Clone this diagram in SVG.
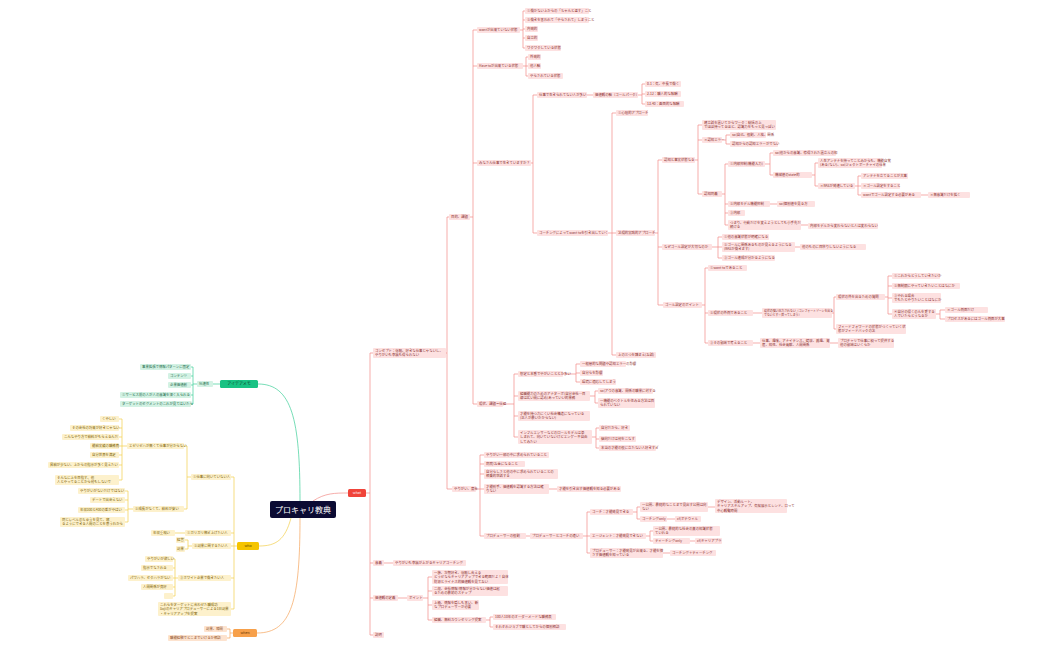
<svg xmlns="http://www.w3.org/2000/svg" width="1050" height="650" viewBox="0 0 1050 650">
<style>
text{font-family:"Noto Sans CJK JP","Noto Sans",sans-serif;font-size:3.4px}
.p rect{fill:#fde1e1}.p text{fill:#8a2f2f}
.y rect{fill:#fdf1cc}.y text{fill:#7a5c00}
.g rect{fill:#d3f2e4}.g text{fill:#1d6b4a}
.o rect{fill:#fde3cf}.o text{fill:#8a4a1a}
.cp{fill:none;stroke:#f28b86;stroke-width:0.7}
.cy{fill:none;stroke:#f2cf4a;stroke-width:0.7}
.cg{fill:none;stroke:#3ccf98;stroke-width:0.7}
.co{fill:none;stroke:#f5a45a;stroke-width:0.7}
.big text{font-size:4.5px}
</style>
<rect width="1050" height="650" fill="#fff"/>
<g id="connectors">
<path class="cg" d="M300,501 C300,420 292,384 258,384"/>
<path class="cy" d="M291,518 C285,540 276,546 259,546"/>
<path class="co" d="M300,518 C300,600 292,633 257,633"/>
<path class="cp" d="M313,501 C325,493 335,493 348,493"/>
<path class="cg" d="M220,384 H213 M197,384 H193 M193,367 V404 M193,367 H191 M193,376 H191 M193,385 H191 M193,395 H191 M193,404 H191"/>
<path class="cy" d="M237,546 H234 M234,477 V609 M234,477 H231 M234,533 H231 M234,546 H231 M234,578 H231 M234,609 H231"/>
<path class="cy" d="M191,477 H187 M187,446 V509 M187,446 H184 M187,509 H184"/>
<path class="cy" d="M128,446 H122 M122,419 V480 M122,419 H119 M122,428 H119 M122,437 H119 M122,446 H119 M122,455 H119 M122,465 H119 M122,480 H119"/>
<path class="cy" d="M133,509 H128 M128,491 V522 M128,491 H125 M128,500 H125 M128,510 H125 M128,522 H125"/>
<path class="cy" d="M185,533 H175"/>
<path class="cy" d="M192,546 H188 M188,540 V549 M188,540 H185 M188,549 H185"/>
<path class="cy" d="M178,578 H175 M175,559 V596 M175,559 H173 M175,568 H173 M175,578 H173 M175,587 H173 M175,596 H173"/>
<path class="co" d="M233,633 H230 M230,629 V638 M230,629 H227 M230,638 H227"/>
<path class="cp" d="M366,493 H370 M370,353 V635 M370,353 H373 M370,563 H373 M370,598 H373 M370,635 H373"/>
<path class="cp" d="M384,563 H393 M398,598 H407 M423,598 H428 M428,577 V620 M428,577 H432 M428,591 H432 M428,605 H432 M428,620 H432 M486,620 H490 M490,617 V627 M490,617 H493 M490,627 H493"/>
<path class="cp" d="M445,353 H447 M447,217 V489 M447,217 H449 M447,489 H452"/>
<path class="cp" d="M469,217 H473 M473,30 V404 M473,30 H477 M473,66 H477 M473,163 H477 M473,404 H477"/>
<path class="cp" d="M520,30 H523 M523,11 V48 M523,11 H525 M523,20 H525 M523,29 H525 M523,38 H525 M523,48 H525"/>
<path class="cp" d="M523,66 H526 M526,57 V76 M526,57 H528 M526,66 H528 M526,76 H528"/>
<path class="cp" d="M531,163 H533 M533,95 V233 M533,95 H537 M533,233 H537 M587,95 H593 M638,95 H642 M642,84 V104 M642,84 H645 M642,94 H645 M642,104 H645"/>
<path class="cp" d="M608,233 H612 M612,113 V355 M612,113 H616 M612,233 H616 M612,355 H616"/>
<path class="cp" d="M655,233 H658 M658,160 V305 M658,160 H662 M658,247 H662 M658,305 H663"/>
<path class="cp" d="M695,160 H698 M698,125 V194 M698,125 H702 M698,140 H702 M698,194 H702 M722,140 H726 M726,135 V144 M726,135 H730 M726,144 H730"/>
<path class="cp" d="M722,194 H725 M725,164 V225 M725,164 H728 M725,204 H728 M725,213 H728 M725,225 H728 M770,204 H777 M801,225 H808"/>
<path class="cp" d="M765,164 H770 M770,153 V175 M770,153 H773 M770,175 H773 M812,175 H815 M815,163 V186 M815,163 H818 M815,186 H818 M855,186 H858 M858,176 V195 M858,176 H861 M858,186 H861 M858,195 H861 M921,195 H928"/>
<path class="cp" d="M712,247 H718 M718,237 V258 M718,237 H722 M718,247 H722 M718,258 H722 M795,247 H800"/>
<path class="cp" d="M702,305 H705 M705,268 V343 M705,268 H708 M705,313 H708 M705,343 H708 M753,313 H762 M753,343 H760 M830,343 H838"/>
<path class="cp" d="M832,313 H834 M834,297 V329 M834,297 H836 M834,329 H836 M885,297 H888 M888,276 V314 M888,276 H892 M888,286 H892 M888,298 H892 M888,314 H892 M936,314 H940 M940,310 V319 M940,310 H945 M940,319 H945"/>
<path class="cp" d="M503,404 H514 M514,374 V437 M514,374 H518 M514,396 H518 M514,416 H518 M514,437 H518"/>
<path class="cp" d="M563,374 H576 M576,364 V382 M576,364 H580 M576,373 H580 M576,382 H580"/>
<path class="cp" d="M590,396 H595 M595,391 V403 M595,391 H598 M595,403 H598"/>
<path class="cp" d="M592,437 H596 M596,428 V448 M596,428 H599 M596,439 H599 M596,448 H599"/>
<path class="cp" d="M476,489 H480 M480,455 V536 M480,455 H484 M480,464 H484 M480,474 H484 M480,489 H484 M480,536 H484 M549,489 H557 M526,536 H530"/>
<path class="cp" d="M583,536 H587 M587,512 V553 M587,512 H590 M587,536 H590 M587,553 H590 M663,553 H670"/>
<path class="cp" d="M633,512 H637 M637,507 V519 M637,507 H640 M637,519 H640 M708,507 H715 M667,519 H675"/>
<path class="cp" d="M646,536 H650 M650,531 V541 M650,531 H653 M650,541 H653 M690,541 H695"/>
</g>
<g id="root"><rect x="270" y="501" width="66" height="17" rx="2" fill="#0b0b33"/><text x="303" y="512.5" text-anchor="middle" fill="#fff" style="font-size:8px">プロキャリ教典</text></g>
<g id="what"><rect x="348" y="489" width="18" height="8" rx="1.5" fill="#f0443a"/><text x="357" y="494.3" text-anchor="middle" fill="#fff" style="font-size:3.6px">what</text></g>
<g id="idea"><rect x="220" y="380" width="38" height="8" rx="1.5" fill="#19c283"/><text x="239" y="385.3" text-anchor="middle" fill="#0b3b28" style="font-size:4px">アイデアメモ</text></g>
<g id="who"><rect x="237" y="542" width="22" height="8" rx="1.5" fill="#f5c400"/><text x="248" y="547.3" text-anchor="middle" fill="#5a4500" style="font-size:3.6px">who</text></g>
<g id="when"><rect x="233" y="629" width="24" height="8" rx="1.5" fill="#f7a04a"/><text x="245" y="634.3" text-anchor="middle" fill="#6b3300" style="font-size:3.6px">when</text></g>

<g class="g">
<g id="g0"><rect x="197" y="381" width="16" height="6" rx="1"/><text x="199" y="385.2">伝達性</text></g>
<g id="g1"><rect x="140" y="364" width="51" height="6" rx="1"/><text x="142" y="368.2">事業拡張で情報パターンに固定</text></g>
<g id="g2"><rect x="168" y="373" width="23" height="6" rx="1"/><text x="170" y="377.2">コンテンツ</text></g>
<g id="g3"><rect x="168" y="382" width="23" height="6" rx="1"/><text x="170" y="386.2">企業価値創</text></g>
<g id="g4"><rect x="120" y="392" width="71" height="6" rx="1"/><text x="122" y="396.2">①サービス前の人が人の意識を深く入られる</text></g>
<g id="g5"><rect x="120" y="401" width="71" height="6" rx="1"/><text x="122" y="405.2">ターゲットのセグメントのこれが見てはいたら</text></g>
</g>

<g class="y">
<g id="y1"><rect x="191" y="474" width="40" height="6" rx="1"/><text x="193" y="478.2">①仕事に向いていない人</text></g>
<g id="y2"><rect x="127" y="443" width="57" height="6" rx="1"/><text x="129" y="447.2">エゼリゼハが無くて仕事が分からない</text></g>
<g id="y3"><rect x="100" y="416" width="19" height="6" rx="1"/><text x="102" y="420.2">くやしい</text></g>
<g id="y4"><rect x="70" y="425" width="49" height="6" rx="1"/><text x="72" y="429.2">その会社の将来が好きじゃない</text></g>
<g id="y5"><rect x="62" y="434" width="57" height="6" rx="1"/><text x="64" y="438.2">こんなやり方で給料がもらえるんだ</text></g>
<g id="y6"><rect x="90" y="443" width="29" height="6" rx="1"/><text x="92" y="447.2">能給実績の職務費</text></g>
<g id="y7"><rect x="90" y="452" width="29" height="6" rx="1"/><text x="92" y="456.2">自分世界を満足</text></g>
<g id="y8"><rect x="48" y="462" width="71" height="6" rx="1"/><text x="50" y="466.2">昇給が少ない、上からの指示が多く見えたい</text></g>
<g id="y9"><rect x="55" y="475" width="64" height="10" rx="1"/><text x="57" y="479.2">そんなに上を目指す、他<tspan x="57" dy="4.2">人とやってることから何もしないで</tspan></text></g>
<g id="y10"><rect x="133" y="506" width="51" height="6" rx="1"/><text x="135" y="510.2">②成長がなくて、給料が安い</text></g>
<g id="y11"><rect x="78" y="488" width="47" height="6" rx="1"/><text x="80" y="492.2">やりがいがないだけではない</text></g>
<g id="y12"><rect x="90" y="497" width="35" height="6" rx="1"/><text x="92" y="501.2">デートで出会えない</text></g>
<g id="y13"><rect x="78" y="507" width="47" height="6" rx="1"/><text x="80" y="511.2">年収300と400の差がやばい</text></g>
<g id="y14"><rect x="60" y="517" width="65" height="10" rx="1"/><text x="62" y="521.2">同じレベルのちゅうを見て、寝<tspan x="62" dy="4.2">るようにできる人間のことを思うわから</tspan></text></g>
<g id="y15"><rect x="185" y="530" width="46" height="6" rx="1"/><text x="187" y="534.2">①ガリガリ稼ぎ上げたい人</text></g>
<g id="y16"><rect x="151" y="530" width="24" height="6" rx="1"/><text x="153" y="534.2">年収重視い</text></g>
<g id="y17"><rect x="192" y="543" width="39" height="6" rx="1"/><text x="194" y="547.2">②副業に関するたい人</text></g>
<g id="y18"><rect x="176" y="537" width="9" height="6" rx="1"/><text x="177" y="541.2">経営</text></g>
<g id="y19"><rect x="176" y="546" width="9" height="6" rx="1"/><text x="177" y="550.2">副業</text></g>
<g id="y20"><rect x="178" y="575" width="53" height="6" rx="1"/><text x="180" y="579.2">③ホワイト企業で働きたい人</text></g>
<g id="y21"><rect x="145" y="556" width="28" height="6" rx="1"/><text x="147" y="560.2">やりがいが欲しい</text></g>
<g id="y22"><rect x="141" y="565" width="32" height="6" rx="1"/><text x="143" y="569.2">指示でなされる</text></g>
<g id="y23"><rect x="128" y="575" width="45" height="6" rx="1"/><text x="130" y="579.2">パワハラ、セクハラがない</text></g>
<g id="y24"><rect x="141" y="584" width="32" height="6" rx="1"/><text x="143" y="588.2">人間関係が良好</text></g>
<g id="y25"><rect x="164" y="593" width="9" height="6" rx="1"/></g>
<g id="y26"><rect x="158" y="602" width="73" height="14" rx="1"/><text x="160" y="606.2">これらをターゲットに合わせた職成功<tspan x="160" dy="4.2">Sojiのキャリアプロデューサーによる1日副業</tspan><tspan x="160" dy="4.2">・キャリアアップを提案</tspan></text></g>
</g>
<g class="o">
<g id="o1"><rect x="204" y="626" width="23" height="6" rx="1"/><text x="206" y="630.2">副業、隙間</text></g>
<g id="o2"><rect x="168" y="635" width="59" height="6" rx="1"/><text x="170" y="639.2">職能経験でどこまでいけるか相談</text></g>
</g>

<g class="p">
<g id="A"><rect x="373" y="348" width="73" height="10" rx="1"/><text x="375" y="352.2">コンセプト：信頼、好きな仕事じゃないし、<tspan x="375" dy="4.2">やりがいも幸福も得られない</tspan></text></g>
<g id="B"><rect x="373" y="560" width="11" height="6" rx="1"/><text x="375" y="564.2">意義</text></g>
<g id="B1"><rect x="393" y="560" width="73" height="6" rx="1"/><text x="395" y="564.2">やりがいも幸福が上がるキャリアコーチング</text></g>
<g id="C"><rect x="373" y="595" width="25" height="6" rx="1"/><text x="375" y="599.2">価値観の定義</text></g>
<g id="C1"><rect x="407" y="595" width="16" height="6" rx="1"/><text x="409" y="599.2">ポイント</text></g>
<g id="C1a"><rect x="432" y="570" width="76" height="14" rx="1"/><text x="434" y="574.2">一族、次期好き、信頼し合える<tspan x="434" dy="4.2">どうせならキャリアアップできる範囲だよ！自体</tspan><tspan x="434" dy="4.2">財源とライナス的価値観を見ておい</tspan></text></g>
<g id="C1b"><rect x="432" y="586" width="76" height="10" rx="1"/><text x="434" y="590.2">二段、会社情報/情報が分からない価値は起<tspan x="434" dy="4.2">るための最初のステップ</tspan></text></g>
<g id="C1c"><rect x="432" y="600" width="47" height="10" rx="1"/><text x="434" y="604.2">上級、情報を隠しも言い、新<tspan x="434" dy="4.2">なプロデューサーが必要</tspan></text></g>
<g id="C1d"><rect x="432" y="617" width="54" height="6" rx="1"/><text x="434" y="621.2">組織、無料カウンセリング提案</text></g>
<g id="C1d1"><rect x="493" y="614" width="63" height="6" rx="1"/><text x="495" y="618.2">100人10年のオーダーメードな職務表</text></g>
<g id="C1d2"><rect x="493" y="624" width="73" height="6" rx="1"/><text x="495" y="628.2">それぞれジョブで職としてからの個別相談</text></g>
<g id="D"><rect x="373" y="632" width="11" height="6" rx="1"/><text x="375" y="636.2">説明</text></g>
<g id="E"><rect x="449" y="214" width="21" height="6" rx="1"/><text x="451" y="218.2">目的、課題</text></g>
<g id="W"><rect x="477" y="27" width="43" height="6" rx="1"/><text x="479" y="31.2">wantが出来ていない状態</text></g>
<g id="W1"><rect x="525" y="8" width="64" height="6" rx="1"/><text x="527" y="12.2">①働かない上からの「ちゃんと返す」こと</text></g>
<g id="W2"><rect x="525" y="17" width="64" height="6" rx="1"/><text x="527" y="21.2">②働きを言われて「やらされて」しまうこと</text></g>
<g id="W3"><rect x="525" y="26" width="13" height="6" rx="1"/><text x="527" y="30.2">内発的</text></g>
<g id="W4"><rect x="525" y="35" width="13" height="6" rx="1"/><text x="527" y="39.2">自立的</text></g>
<g id="W5"><rect x="525" y="45" width="36" height="6" rx="1"/><text x="527" y="49.2">ワクワクしている状態</text></g>
<g id="H"><rect x="477" y="63" width="46" height="6" rx="1"/><text x="479" y="67.2">Have toが出来ている状態</text></g>
<g id="H1"><rect x="528" y="54" width="13" height="6" rx="1"/><text x="530" y="58.2">外発的</text></g>
<g id="H2"><rect x="528" y="63" width="13" height="6" rx="1"/><text x="530" y="67.2">他人軸</text></g>
<g id="H3"><rect x="528" y="73" width="35" height="6" rx="1"/><text x="530" y="77.2">やらされている状態</text></g>
<g id="M"><rect x="477" y="160" width="54" height="6" rx="1"/><text x="479" y="164.2">みなさん仕事で生きていますか？</text></g>
<g id="M1"><rect x="537" y="92" width="50" height="6" rx="1"/><text x="539" y="96.2">仕事で生きられてない人が多い</text></g>
<g id="M1a"><rect x="593" y="92" width="45" height="6" rx="1"/><text x="595" y="96.2">価値観の軸（コールパーク）</text></g>
<g id="M1a1"><rect x="645" y="81" width="36" height="6" rx="1"/><text x="647" y="85.2">0-1：気、中長で働く</text></g>
<g id="M1a2"><rect x="645" y="91" width="36" height="6" rx="1"/><text x="647" y="95.2">2-12：職人的な報酬</text></g>
<g id="M1a3"><rect x="645" y="101" width="39" height="6" rx="1"/><text x="647" y="105.2">13-40：画面的な報酬</text></g>
<g id="M2"><rect x="537" y="230" width="71" height="6" rx="1"/><text x="539" y="234.2">コーチングによってwant toを引き出していく</text></g>
<g id="K1"><rect x="616" y="110" width="32" height="6" rx="1"/><text x="618" y="114.2">①心理的アプローチ</text></g>
<g id="K2"><rect x="616" y="230" width="39" height="6" rx="1"/><text x="618" y="234.2">法規的実践的アプローチ</text></g>
<g id="K3"><rect x="616" y="352" width="40" height="6" rx="1"/><text x="618" y="356.2">上の三つを踏まえ(お話)</text></g>
<g id="L1"><rect x="662" y="157" width="33" height="6" rx="1"/><text x="664" y="161.2">認知と事実状態なる</text></g>
<g id="L1a"><rect x="702" y="120" width="74" height="10" rx="1"/><text x="704" y="124.2">建立話を置いてからワーク：総括の上<tspan x="704" dy="4.2">でほぼ持ってるほど、認識力をもっと見っぽい</tspan></text></g>
<g id="L1b"><rect x="702" y="137" width="20" height="6" rx="1"/><text x="704" y="141.2">×認知エラー</text></g>
<g id="L1b1"><rect x="730" y="132" width="36" height="6" rx="1"/><text x="732" y="136.2">so(自己、役割、人格、関係</text></g>
<g id="L1b2"><rect x="730" y="141" width="48" height="6" rx="1"/><text x="732" y="145.2">認知からの認知エラーがでない</text></g>
<g id="L1c"><rect x="702" y="191" width="20" height="6" rx="1"/><text x="704" y="195.2">認知同義</text></g>
<g id="N1"><rect x="728" y="161" width="37" height="6" rx="1"/><text x="730" y="165.2">①内部抑制(機能入力)</text></g>
<g id="N1a"><rect x="773" y="150" width="63" height="6" rx="1"/><text x="775" y="154.2">so(他からの意識、修得された置立ルの知</text></g>
<g id="N1b"><rect x="773" y="172" width="39" height="6" rx="1"/><text x="775" y="176.2">機械値のstate的</text></g>
<g id="N1b1"><rect x="818" y="158" width="64" height="10" rx="1"/><text x="820" y="162.2">人生アンテナを持ってことみからも、機能自覚<tspan x="820" dy="4.2">(ある/ない)、so(ジェクトポーチャイの仕業</tspan></text></g>
<g id="N1b2"><rect x="818" y="183" width="37" height="6" rx="1"/><text x="820" y="187.2">×RASが発達している</text></g>
<g id="N1b2a"><rect x="861" y="173" width="47" height="6" rx="1"/><text x="863" y="177.2">アンテナを立てることが大事</text></g>
<g id="N1b2b"><rect x="861" y="183" width="39" height="6" rx="1"/><text x="863" y="187.2">×ゴール設定をすること</text></g>
<g id="N1b2c"><rect x="861" y="192" width="60" height="6" rx="1"/><text x="863" y="196.2">wantでゴール設定する必要がある</text></g>
<g id="N1b2d"><rect x="928" y="192" width="42" height="6" rx="1"/><text x="930" y="196.2">×無意識だけを拡く</text></g>
<g id="N2"><rect x="728" y="201" width="42" height="6" rx="1"/><text x="730" y="205.2">②内部モデル機能抑制</text></g>
<g id="N2a"><rect x="777" y="201" width="38" height="6" rx="1"/><text x="779" y="205.2">so(個別値を見る方</text></g>
<g id="N3"><rect x="728" y="210" width="17" height="6" rx="1"/><text x="730" y="214.2">③内部</text></g>
<g id="N4"><rect x="728" y="220" width="73" height="10" rx="1"/><text x="730" y="224.2">つまり、行動だけを変えようとしても小手先だ<tspan x="730" dy="4.2">続ける</tspan></text></g>
<g id="N4a"><rect x="808" y="223" width="70" height="6" rx="1"/><text x="810" y="227.2">内部モデルから変わらないと人は変わらない</text></g>
<g id="L2"><rect x="662" y="244" width="50" height="6" rx="1"/><text x="664" y="248.2">なぜゴール設定が大切なのか</text></g>
<g id="L2a"><rect x="722" y="234" width="47" height="6" rx="1"/><text x="724" y="238.2">①他の意識状態が明確になる</text></g>
<g id="L2b"><rect x="722" y="242" width="73" height="10" rx="1"/><text x="724" y="246.2">②ゴールに関係あるものが見えるようになる<tspan x="724" dy="4.2">(RASが働きます)</tspan></text></g>
<g id="L2b1"><rect x="800" y="244" width="66" height="6" rx="1"/><text x="802" y="248.2">他のものに目移りしないようになる</text></g>
<g id="L2c"><rect x="722" y="255" width="53" height="6" rx="1"/><text x="724" y="259.2">③ゴール達成が分かるようになる</text></g>
<g id="L3"><rect x="663" y="302" width="39" height="6" rx="1"/><text x="665" y="306.2">ゴール設定のポイント</text></g>
<g id="O1"><rect x="708" y="265" width="39" height="6" rx="1"/><text x="710" y="269.2">①want toであること</text></g>
<g id="O2"><rect x="708" y="310" width="45" height="6" rx="1"/><text x="710" y="314.2">②現状の外側であること</text></g>
<g id="O2a"><rect x="762" y="308" width="70" height="10" rx="1"/><text x="764" y="312.2" style="font-size:2.9px">現状の強い圧力されない（コンフォートゾーンを出る<tspan x="764" dy="4.2">でないとすぐ戻ってしまう）</tspan></text></g>
<g id="P1"><rect x="836" y="294" width="49" height="6" rx="1"/><text x="838" y="298.2">現状の外を出るための質問</text></g>
<g id="P1a"><rect x="892" y="273" width="48" height="6" rx="1"/><text x="894" y="277.2">①これからどうしていきたいか</text></g>
<g id="P1b"><rect x="892" y="283" width="68" height="6" rx="1"/><text x="894" y="287.2">②無制限にやっていきたいことはなにか</text></g>
<g id="P1c"><rect x="892" y="293" width="49" height="10" rx="1"/><text x="894" y="297.2">③やれる場合<tspan x="894" dy="4.2">でもたとやりたいことはなにか</tspan></text></g>
<g id="P1d"><rect x="892" y="309" width="44" height="10" rx="1"/><text x="894" y="313.2">④自分の得くのんを愛する<tspan x="894" dy="4.2">人でいたらどうなるか</tspan></text></g>
<g id="P1d1"><rect x="945" y="307" width="43" height="6" rx="1"/><text x="947" y="311.2">×ゴール側面だけ</text></g>
<g id="P1d2"><rect x="945" y="316" width="60" height="6" rx="1"/><text x="947" y="320.2">プロセスがあるにはゴール側面が大事</text></g>
<g id="P2"><rect x="836" y="324" width="70" height="10" rx="1"/><text x="838" y="328.2">フィードフォワードの状態がつくっていく状<tspan x="838" dy="4.2">態がフィードバックの法</tspan></text></g>
<g id="O3"><rect x="708" y="340" width="45" height="6" rx="1"/><text x="710" y="344.2">③その領域で考えること</text></g>
<g id="O3a"><rect x="760" y="338" width="70" height="10" rx="1"/><text x="762" y="342.2">仕事、趣味、アナイテンス、健康、興趣、資<tspan x="762" dy="4.2">産、知性、社会貢献、人間関係</tspan></text></g>
<g id="O3b"><rect x="838" y="338" width="56" height="10" rx="1"/><text x="840" y="342.2">プロキャリで仕事に絞って提供する<tspan x="840" dy="4.2">他の領域はいくらか</tspan></text></g>
<g id="G"><rect x="477" y="401" width="26" height="6" rx="1"/><text x="479" y="405.2">現状、課題＝仕組</text></g>
<g id="G1"><rect x="518" y="371" width="45" height="6" rx="1"/><text x="520" y="375.2">想定と本番でやがいこととか多い</text></g>
<g id="G1a"><rect x="580" y="361" width="46" height="6" rx="1"/><text x="582" y="365.2">一般層的な問題や認知エラーの影響</text></g>
<g id="G1b"><rect x="580" y="370" width="23" height="6" rx="1"/><text x="582" y="374.2">自分らを影響</text></g>
<g id="G1c"><rect x="580" y="379" width="36" height="6" rx="1"/><text x="582" y="383.2">環境に適応してしまう</text></g>
<g id="G2"><rect x="518" y="391" width="72" height="10" rx="1"/><text x="520" y="395.2">組織能力のためのアナターボ(自分会社…目<tspan x="520" dy="4.2">線は広い間に認め)あっていい的業務</tspan></text></g>
<g id="G2a"><rect x="598" y="388" width="55" height="6" rx="1"/><text x="600" y="392.2">so(アウの意識、間係の職業に対する</text></g>
<g id="G2b"><rect x="598" y="398" width="57" height="10" rx="1"/><text x="600" y="402.2">一機能のベクトルを住みる方法は目<tspan x="600" dy="4.2">られていない</tspan></text></g>
<g id="G3"><rect x="518" y="411" width="72" height="10" rx="1"/><text x="520" y="415.2">才能を持つ力にくい社会構造になっている<tspan x="520" dy="4.2">(正人が最いかからない)</tspan></text></g>
<g id="G4"><rect x="518" y="430" width="74" height="14" rx="1"/><text x="520" y="434.2">インフルエンサーなどのロールモデルは楽<tspan x="520" dy="4.2">しまれて、向いていないけどエンゲー不自由</tspan><tspan x="520" dy="4.2">してみたい</tspan></text></g>
<g id="G4a"><rect x="599" y="425" width="31" height="6" rx="1"/><text x="601" y="429.2">自分だから、好き</text></g>
<g id="G4b"><rect x="599" y="436" width="37" height="6" rx="1"/><text x="601" y="440.2">傾向だけは何をこなす</text></g>
<g id="G4c"><rect x="599" y="445" width="57" height="6" rx="1"/><text x="601" y="449.2">本当の才能の役に立たない人好きすぎ</text></g>
<g id="Y"><rect x="452" y="486" width="24" height="6" rx="1"/><text x="454" y="490.2">やりがい、度合</text></g>
<g id="Y1"><rect x="484" y="452" width="65" height="6" rx="1"/><text x="486" y="456.2">やりがい一部の中に求められていること</text></g>
<g id="Y2"><rect x="484" y="461" width="41" height="6" rx="1"/><text x="486" y="465.2">病院/お金になること</text></g>
<g id="Y3"><rect x="484" y="469" width="74" height="10" rx="1"/><text x="486" y="473.2">自分らしさと他の中に求められていることの<tspan x="486" dy="4.2">相乗的世話する</tspan></text></g>
<g id="Y4"><rect x="484" y="484" width="65" height="10" rx="1"/><text x="486" y="488.2">才能別手、価値観を認識する方法は確<tspan x="486" dy="4.2">りない</tspan></text></g>
<g id="Y4a"><rect x="557" y="486" width="64" height="6" rx="1"/><text x="559" y="490.2">才能を引き出す価値観を知る必要がある</text></g>
<g id="Y5"><rect x="484" y="533" width="42" height="6" rx="1"/><text x="486" y="537.2">プロデューサーの役割</text></g>
<g id="Y5a"><rect x="530" y="533" width="53" height="6" rx="1"/><text x="532" y="537.2">プロデューサーとコーチの違い</text></g>
<g id="Z1"><rect x="590" y="509" width="43" height="6" rx="1"/><text x="592" y="513.2">コーチ：才能発見できる</text></g>
<g id="Z1a"><rect x="640" y="502" width="68" height="10" rx="1"/><text x="642" y="506.2">一公開、最終的なことまで見出す公開は向<tspan x="642" dy="4.2">ない</tspan></text></g>
<g id="Z1a1"><rect x="715" y="499" width="72" height="14" rx="1"/><text x="717" y="503.2">デザイン、活動ルート、<tspan x="717" dy="4.2">キャリアスキルアップ、気候展示とレンド、ロって</tspan><tspan x="717" dy="4.2">中心観覧時間</tspan></text></g>
<g id="Z1b"><rect x="640" y="516" width="27" height="6" rx="1"/><text x="642" y="520.2">コーチングonly</text></g>
<g id="Z1b1"><rect x="675" y="516" width="26" height="6" rx="1"/><text x="677" y="520.2">cf(ポテウィル</text></g>
<g id="Z2"><rect x="590" y="533" width="56" height="6" rx="1"/><text x="592" y="537.2">エージェント：才能発見できない</text></g>
<g id="Z2a"><rect x="653" y="526" width="67" height="10" rx="1"/><text x="655" y="530.2">一公開、最終的な社会の真の知識状態<tspan x="655" dy="4.2">ていれる</tspan></text></g>
<g id="Z2b"><rect x="653" y="538" width="37" height="6" rx="1"/><text x="655" y="542.2">ティーチングonly</text></g>
<g id="Z2b1"><rect x="695" y="538" width="27" height="6" rx="1"/><text x="697" y="542.2">cf(キャリアプラ</text></g>
<g id="Z3"><rect x="590" y="548" width="73" height="10" rx="1"/><text x="592" y="552.2">プロデューサー：才能発見が出来る、才能を探<tspan x="592" dy="4.2">さず価値観を知っている</tspan></text></g>
<g id="Z3a"><rect x="670" y="550" width="46" height="6" rx="1"/><text x="672" y="554.2">コーチング＋ティーチング</text></g>
</g>
</svg>
